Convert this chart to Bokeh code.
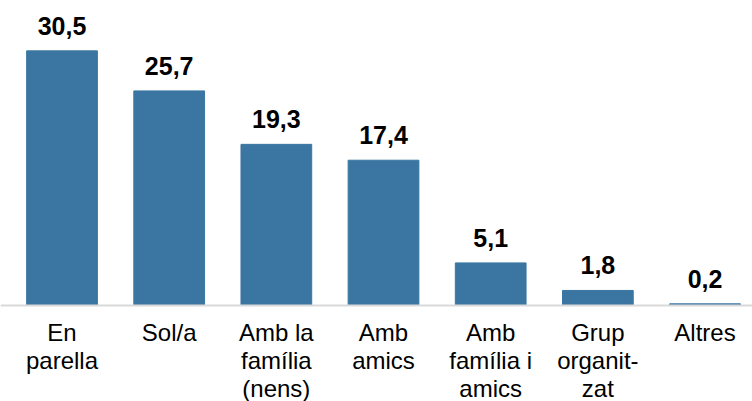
from bokeh.plotting import figure
from bokeh.models import Range1d, ColumnDataSource, Span
from bokeh.embed import file_html
from bokeh.resources import INLINE
from bokeh.core.properties import value

categories = ["En\nparella", "Sol/a", "Amb la\nfamília\n(nens)", "Amb\namics",
              "Amb\nfamília i\namics", "Grup\norganit-\nzat", "Altres"]
values = [30.5, 25.7, 19.3, 17.4, 5.1, 1.8, 0.2]
value_labels = ["30,5", "25,7", "19,3", "17,4", "5,1", "1,8", "0,2"]

xs = [i + 0.5 for i in range(len(categories))]
src = ColumnDataSource(dict(x=xs, top=values, lab=value_labels,
                            cat=categories, base=[0] * len(xs)))

p = figure(width=752, height=401, output_backend="svg", toolbar_location=None,
           x_range=Range1d(-0.074, 6.943), y_range=Range1d(-11.5, 36.53),
           min_border=0)
p.outline_line_color = None
p.grid.visible = False
p.axis.visible = False

p.vbar(x="x", top="top", width=0.66, bottom=0, source=src,
       fill_color="#3A76A1", line_color="#3A76A1")

p.add_layout(Span(location=0, dimension="width", line_color="#d9d9d9", line_width=2))

p.text(x="x", y="top", text="lab", source=src, y_offset=-25,
       text_align="center", text_baseline="alphabetic",
       text_font=value("Liberation Sans"), text_font_style="bold",
       text_font_size="25px", text_color="#000000")

p.text(x="x", y="base", text="cat", source=src, y_offset=14,
       text_align="center", text_baseline="top", text_line_height=1.03,
       text_font=value("Liberation Sans"),
       text_font_size="24px", text_color="#000000")

open("out.html", "w").write(file_html(p, INLINE))
